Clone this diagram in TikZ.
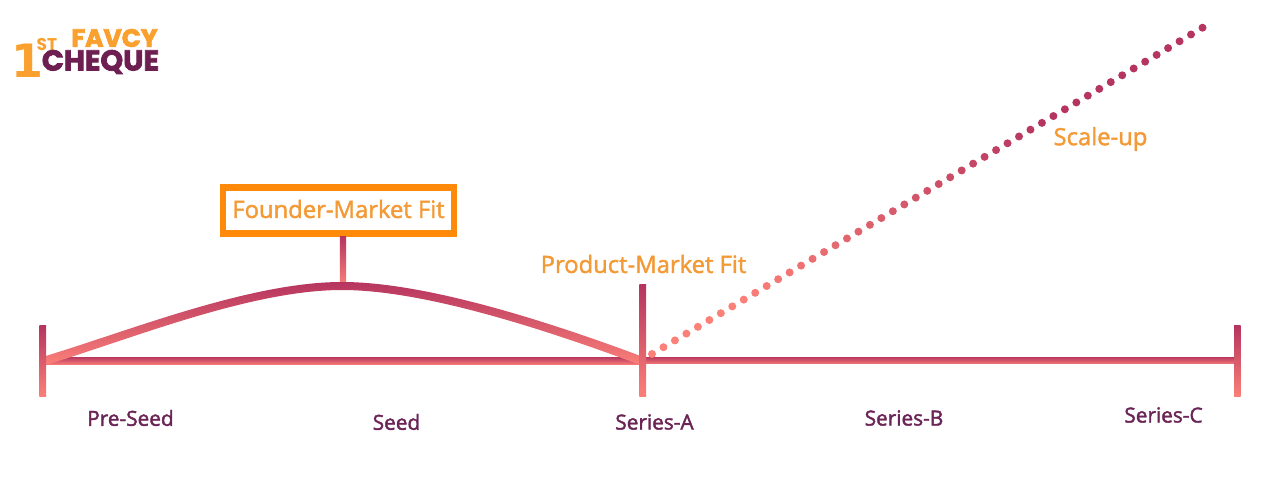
\documentclass[tikz,border=0pt]{standalone}
\usepackage{fontspec}
\setmainfont{Open Sans}
\newfontfamily\lblfont{Open Sans}
\newfontfamily\logofont{Poppins}[BoldFont=* Bold]
\newfontfamily\onefont{DejaVu Sans}[BoldFont=* Bold]
\newcommand{\heavy}[2]{\special{pdf:code 2 Tr #1 w}#2\special{pdf:code 0 Tr 1 w}}
\usetikzlibrary{calc}
\definecolor{gdark}{HTML}{B5355F}
\definecolor{glight}{HTML}{FB8078}
\definecolor{boxorange}{HTML}{FF8A0A}
\definecolor{txtorange}{HTML}{F39A36}
\definecolor{txtplum}{HTML}{6B2456}
\definecolor{logoorange}{HTML}{F9A02E}
\definecolor{logoplum}{HTML}{6E1F52}
\tikzset{
  x=1pt,y=-1pt,
  grad/.style={top color=gdark,bottom color=glight,draw=none},
  basegrad/.style={top color=gdark!92!glight,bottom color=glight!90!gdark,draw=none},
  stagelabel/.style={text=txtplum,font=\lblfont\fontsize{20.8}{24}\selectfont,inner sep=0pt,anchor=center},
  fitlabel/.style={text=txtorange,font=\lblfont\fontsize{23.8}{28}\selectfont,inner sep=0pt,anchor=center},
  fitbox/.style={draw=boxorange,line width=6.4pt,fill=white,minimum width=230.6pt,minimum height=46pt,inner sep=0pt},
  logoO/.style={text=logoorange,font=\logofont\bfseries,inner sep=0pt,anchor=center},
  logoP/.style={text=logoplum,font=\logofont\bfseries,inner sep=0pt,anchor=center}
}
\begin{document}
\begin{tikzpicture}
\useasboundingbox (0,0) rectangle (1280,486);
% anchors
\coordinate (start) at (42.7,360.7);
\coordinate (mid) at (642.7,360.7);
\coordinate (end) at (1237.3,360.5);
\coordinate (peak) at (343,286);
\coordinate (stemtop) at (343,236.5);
\coordinate (dotstart) at (652,354);
\coordinate (dotend) at (1202.5,27.7);
\coordinate (midtop) at (642.7,285);
\coordinate (starttop) at (42.7,325.7);
\coordinate (endtop) at (1237.3,325.7);
\node[fitbox] (fmf) at (338.5,210.7) {};
\node[fitlabel] (fmflabel) at (338.5,209) {\heavy{0.4}{Founder-Market Fit}};
% baseline
\shade[basegrad] ($(start)+(0,-3.4)$) rectangle ($(mid)+(0,3.4)$);
\shade[basegrad] ($(mid)+(0,-3.4)$) rectangle ($(end)+(0,3.4)$);
% stem
\shade[grad] ($(stemtop)+(-3.2,0)$) rectangle ($(peak)+(3.2,0)$);
% curve
\shade[grad]
  (44,356.5) .. controls (130,330.5) and (250,282) .. (342,282)
  .. controls (420,282) and (535,316.5) .. (642,356.5)
  -- (642,365.5)
  .. controls (535,325.5) and (420,290) .. (342,290)
  .. controls (250,290) and (130,339.5) .. (44,365.5) -- cycle;
% ticks
\shade[grad] ($(starttop)+(-3.3,0)$) rectangle ($(start)+(3.3,36)$);
\shade[grad] ($(midtop)+(-3.3,0)$) rectangle ($(mid)+(3.3,36)$);
\shade[grad] ($(endtop)+(-3.3,0)$) rectangle ($(end)+(3.3,36.2)$);
% dots
\foreach \i in {0,...,48}{
  \pgfmathsetmacro{\mixv}{max(0,min(100,100*(\i-8)/26))}
  \colorlet{dotcol}{gdark!\mixv!glight}
  \fill[dotcol] ($(dotstart)!\i/48!(dotend)$) circle[radius=4];
}
% labels
\node[fitlabel] (pmf) at (643.5,264) {\heavy{0.4}{Product-Market Fit}};
\node[fitlabel] (scale) at (1100.5,139) {\heavy{0.4}{Scale-up}};
\node[stagelabel] (s1) at (130.5,418) {\heavy{0.4}{Pre-Seed}};
\node[stagelabel] (s2) at (396.5,422) {\heavy{0.4}{Seed}};
\node[stagelabel] (s3) at (654.5,422) {\heavy{0.4}{Series-A}};
\node[stagelabel] (s4) at (904,418) {\heavy{0.4}{Series-B}};
\node[stagelabel] (s5) at (1163.5,415) {\heavy{0.4}{Series-C}};
% logo
\node[text=logoorange,font=\onefont\bfseries\fontsize{46}{46}\selectfont,inner sep=0pt] (one) at (28,61) {1};
\node[logoO] (st) at (47,45) {\fontsize{17}{17}\selectfont ST};
\node[logoO] (favcy) at (114.5,38) {\fontsize{25}{25}\selectfont\heavy{0.8}{FAVCY}};
\node[logoP] (cheque) at (100.5,62) {\fontsize{28.8}{29}\selectfont\heavy{0.8}{CHEQUE}};
\end{tikzpicture}
\end{document}
